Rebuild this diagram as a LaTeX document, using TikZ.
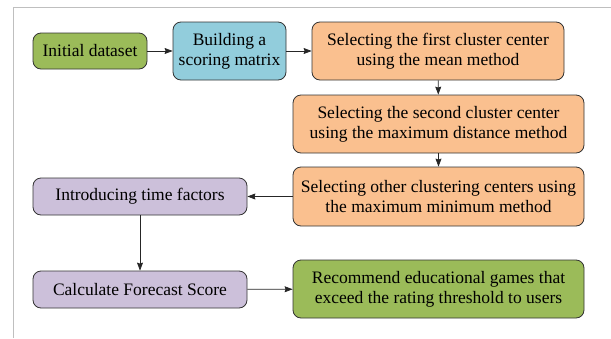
\documentclass[tikz,border=0pt]{standalone}
\usepackage{fontspec}
\setmainfont{Liberation Serif}
\usepackage{tikz}
\usetikzlibrary{arrows.meta}
\definecolor{boxgreen}{RGB}{155,187,89}
\definecolor{boxblue}{RGB}{146,205,220}
\definecolor{boxorange}{RGB}{250,192,143}
\definecolor{boxpurple}{RGB}{204,192,218}
\begin{document}
\begin{tikzpicture}[x=1pt,y=-1pt,>={Stealth[length=8pt,width=6pt,inset=1pt]}]
\tikzset{
  box/.style={draw=black!80,line width=.8pt,rounded corners=8pt,align=center,font=\fontsize{17.5}{20}\selectfont,inner sep=0pt},
  arr/.style={->,draw=black!85,line width=.7pt}
}
\useasboundingbox (0,0) rectangle (611,338);
\draw[black!25,line width=1pt] (611,7) -- (13,7) -- (13,338);
\node[box,fill=boxgreen,minimum width=114pt,minimum height=36pt] (init) at (90,51) {Initial dataset};
\node[box,fill=boxblue,minimum width=113pt,minimum height=58pt] (score) at (229.5,51) {Building a\\scoring matrix};
\node[box,fill=boxorange,minimum width=252pt,minimum height=58pt] (first) at (438,51) {Selecting the first cluster center\\using the mean method};
\node[box,fill=boxorange,minimum width=291pt,minimum height=58pt] (second) at (438.5,124) {Selecting the second cluster center\\using the maximum distance method};
\node[box,fill=boxorange,minimum width=291pt,minimum height=59pt] (other) at (438.5,196.5) {Selecting other clustering centers using\\the maximum minimum method};
\node[box,fill=boxpurple,minimum width=214pt,minimum height=37pt] (time) at (140,196.5) {Introducing time factors};
\node[box,fill=boxpurple,minimum width=214pt,minimum height=37pt] (forecast) at (140,289.5) {Calculate Forecast Score};
\node[box,fill=boxgreen,minimum width=291pt,minimum height=58pt] (recom) at (438.5,289) {Recommend educational games that\\exceed the rating threshold to users};
\draw[arr] (init) -- (score);
\draw[arr] (score) -- (first);
\draw[arr] (first) -- (second);
\draw[arr] (second) -- (other);
\draw[arr] (other) -- (time);
\draw[arr] (time) -- (forecast);
\draw[arr] (forecast) -- (recom);
\end{tikzpicture}
\end{document}
